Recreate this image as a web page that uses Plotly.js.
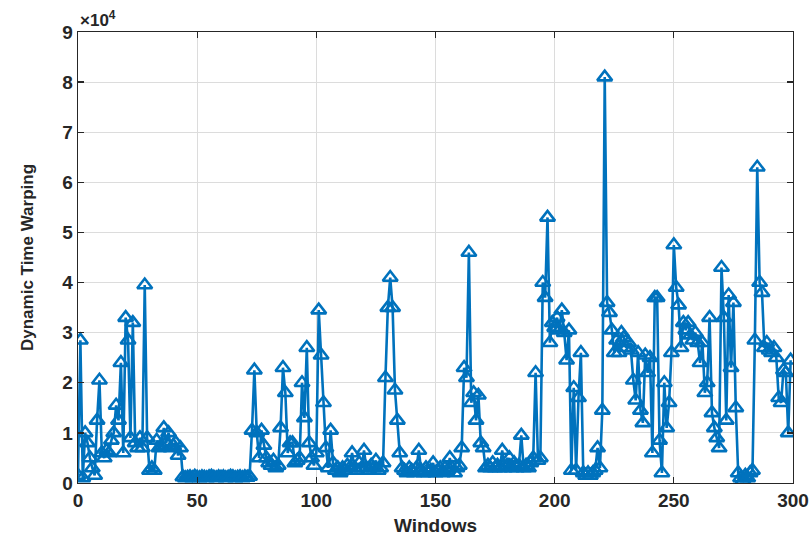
<!DOCTYPE html>
<html>
<head>
<meta charset="utf-8">
<script src="https://cdn.plot.ly/plotly-3.0.1.min.js"></script>
<style>html,body{margin:0;padding:0;background:#fff;}#chart{width:810px;height:540px;}</style>
</head>
<body>
<div id="chart"></div>
<script>
// Dynamic Time Warping value per window (in units of 1e4)
const dtwE4 = [
 0.15, 2.85, 0.1, 1.0, 0.8, 0.5, 0.3, 0.15, 1.25, 2.05,
 0.6, 0.5, 0.65, 0.6, 0.85, 1.0, 1.55, 1.25, 2.4, 0.6,
 3.3, 2.85, 0.9, 3.2, 0.8, 0.7, 0.9, 0.7, 3.95, 0.9,
 0.25, 0.3, 0.25, 0.85, 0.7, 0.75, 1.1, 0.8, 1.0, 0.7,
 0.75, 0.8, 0.55, 0.7, 0.12, 0.1, 0.11, 0.12, 0.1, 0.13,
 0.11, 0.1, 0.12, 0.11, 0.1, 0.12, 0.13, 0.11, 0.1, 0.12,
 0.11, 0.12, 0.1, 0.11, 0.13, 0.12, 0.1, 0.11, 0.12, 0.1,
 0.12, 0.11, 0.13, 1.05, 2.25, 1.0, 0.5, 1.05, 0.75, 0.5,
 0.4, 0.35, 0.45, 0.3, 0.35, 1.1, 2.3, 1.8, 0.6, 0.8,
 0.8, 0.4, 0.45, 0.5, 2.0, 1.3, 2.7, 0.8, 0.5, 0.35,
 0.6, 3.45, 2.55, 1.6, 0.7, 0.3, 1.05, 0.4, 0.25, 0.3,
 0.2, 0.3, 0.25, 0.35, 0.3, 0.6, 0.3, 0.25, 0.4, 0.3,
 0.65, 0.3, 0.25, 0.35, 0.3, 0.45, 0.25, 0.3, 0.4, 2.1,
 3.5, 4.1, 3.5, 1.85, 1.25, 0.6, 0.3, 0.25, 0.2, 0.3,
 0.25, 0.2, 0.3, 0.65, 0.25, 0.2, 0.3, 0.2, 0.25, 0.4,
 0.2, 0.25, 0.3, 0.2, 0.3, 0.25, 0.5, 0.3, 0.2, 0.3,
 0.35, 0.7, 2.3, 2.1, 4.6, 1.6, 1.8, 1.25, 1.75, 0.8,
 0.7, 0.3, 0.35, 0.3, 0.4, 0.3, 0.35, 0.3, 0.65, 0.3,
 0.35, 0.5, 0.3, 0.4, 0.3, 0.35, 0.95, 0.3, 0.35, 0.3,
 0.4, 0.5, 2.2, 0.45, 0.5, 4.0, 3.7, 5.3, 2.8, 3.2,
 3.1, 3.3, 3.05, 3.45, 3.0, 2.45, 3.05, 0.25, 1.9, 0.25,
 1.7, 2.6, 0.2, 0.15, 0.2, 0.15, 0.2, 0.25, 0.7, 0.3,
 1.45, 8.1, 3.6, 3.4, 3.05, 2.6, 2.85, 2.6, 3.0, 2.9,
 2.7, 2.8, 2.65, 2.05, 1.65, 2.6, 1.45, 1.2, 2.55, 2.2,
 2.5, 0.6, 3.7, 3.7, 0.85, 0.2, 2.0, 1.1, 1.6, 2.6,
 4.75, 3.9, 3.55, 2.7, 3.2, 3.05, 3.2, 2.95, 2.85, 3.0,
 2.8, 2.4, 2.8, 1.8, 2.0, 3.3, 1.4, 1.1, 0.9, 0.7,
 4.3, 3.3, 1.25, 3.75, 2.3, 3.6, 1.5, 0.2, 0.1, 0.05,
 0.15, 0.1, 0.2, 0.25, 2.85, 6.3, 4.0, 3.8, 2.7, 2.8,
 2.65, 2.6, 2.7, 2.5, 1.7, 1.6, 2.25, 2.2, 1.0, 2.45
];
const dtwValues = dtwE4.map(v => v * 10000);
const windows = dtwValues.map((_, i) => i);

const xTicks = [0, 50, 100, 150, 200, 250, 300];
const yTickVals = [0, 10000, 20000, 30000, 40000, 50000, 60000, 70000, 80000, 90000];
const yTickText = ['0', '1', '2', '3', '4', '5', '6', '7', '8', '9'];

const blue = '#0072BD';
const ink = '#262626';
const fontFam = 'Liberation Sans, Arial, Helvetica, sans-serif';

const trace = {
  x: windows,
  y: dtwValues,
  type: 'scatter',
  mode: 'lines+markers',
  line: {color: blue, width: 2.6},
  marker: {symbol: 'triangle-up-open', size: 13, color: blue, line: {color: blue, width: 2.6}},
  hoverinfo: 'x+y'
};

const axisCommon = {
  showline: true, linecolor: ink, linewidth: 1.3, mirror: 'ticks',
  ticks: 'inside', ticklen: 6, tickcolor: ink, tickwidth: 1.3,
  showgrid: true, gridcolor: '#dcdcdc', gridwidth: 1,
  zeroline: false,
  tickfont: {family: fontFam, size: 19, color: ink, weight: 'bold'}
};

const layout = {
  width: 810, height: 540,
  margin: {l: 78, r: 17, t: 32, b: 57},
  paper_bgcolor: '#ffffff', plot_bgcolor: '#ffffff',
  showlegend: false,
  xaxis: Object.assign({}, axisCommon, {
    range: [0, 300], tickvals: xTicks, ticktext: xTicks.map(String),
    title: {text: 'Windows', font: {family: fontFam, size: 19, color: ink, weight: 'bold'}, standoff: 8}
  }),
  yaxis: Object.assign({}, axisCommon, {
    range: [0, 90000], tickvals: yTickVals, ticktext: yTickText,
    title: {text: 'Dynamic Time Warping', font: {family: fontFam, size: 17, color: ink, weight: 'bold'}, standoff: 24}
  }),
  annotations: [{
    xref: 'paper', yref: 'paper', x: 0, y: 1, xanchor: 'left', yanchor: 'bottom',
    text: '×10<sup>4</sup>', showarrow: false,
    font: {family: fontFam, size: 17, color: ink, weight: 'bold'}
  }]
};

Plotly.newPlot('chart', [trace], layout, {displayModeBar: false, staticPlot: true});
</script>
</body>
</html>
